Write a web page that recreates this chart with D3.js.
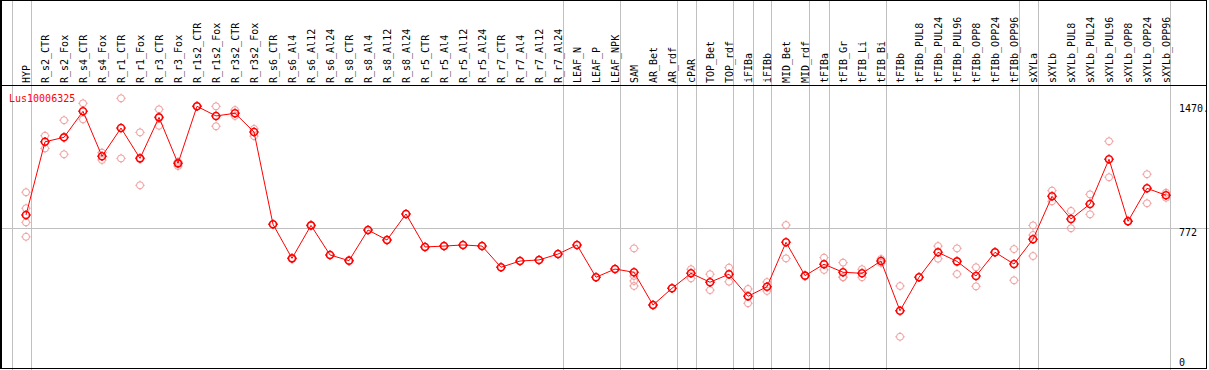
<!DOCTYPE html>
<html>
<head>
<meta charset="utf-8">
<script src="https://cdn.jsdelivr.net/npm/d3@7"></script>
<style>
body { margin: 0; background: #fff; }
text { font-family: "DejaVu Sans Mono", monospace; font-size: 10px; }
</style>
</head>
<body>
<script>
var geneName = "Lus10006325";

var samples = ["HYP", "R_s2_CTR", "R_s2_Fox", "R_s4_CTR", "R_s4_Fox", "R_r1_CTR", "R_r1_Fox",
    "R_r3_CTR", "R_r3_Fox", "R_r1s2_CTR", "R_r1s2_Fox", "R_r3s2_CTR", "R_r3s2_Fox",
    "R_s6_CTR", "R_s6_Al4", "R_s6_Al12", "R_s6_Al24", "R_s8_CTR", "R_s8_Al4", "R_s8_Al12", "R_s8_Al24",
    "R_r5_CTR", "R_r5_Al4", "R_r5_Al12", "R_r5_Al24", "R_r7_CTR", "R_r7_Al4", "R_r7_Al12", "R_r7_Al24",
    "LEAF_N", "LEAF_P", "LEAF_NPK", "SAM", "AR_Bet", "AR_rdf", "cPAR", "TOP_Bet", "TOP_rdf",
    "iFIBa", "iFIBb", "MID_Bet", "MID_rdf", "tFIBa", "tFIB_Gr", "tFIB_Li", "tFIB_Bi", "tFIBb",
    "tFIBb_PUL8", "tFIBb_PUL24", "tFIBb_PUL96", "tFIBb_OPP8", "tFIBb_OPP24", "tFIBb_OPP96",
    "sXYLa", "sXYLb", "sXYLb_PUL8", "sXYLb_PUL24", "sXYLb_PUL96", "sXYLb_OPP8", "sXYLb_OPP24", "sXYLb_OPP96"];

// mean expression per sample
var means = [847, 1258, 1283, 1429, 1177, 1335, 1165, 1395, 1137, 1457, 1403, 1418, 1313,
    795, 604, 789, 623, 591, 763, 707, 853, 668, 673, 679, 673, 554, 589, 595, 628,
    679, 498, 544, 526, 342, 436, 520, 470, 515, 391, 445, 694, 507, 571, 526, 520, 589, 310,
    498, 638, 587, 505, 638, 572, 711, 952, 825, 909, 1160, 812, 997, 958];

// replicate values per sample
var replicates = [
    [975, 885, 806, 725], [1292, 1221], [1379, 1188], [1474, 1384], [1197, 1156], [1502, 1165],
    [1311, 1014], [1440, 1348], [1146, 1122], [1457, 1457], [1457, 1345], [1436, 1403], [1330, 1290],
    [795], [604], [789], [623], [591], [763], [707], [853], [668], [673], [679], [673], [554], [589], [595], [628],
    [679], [498], [544], [660, 505, 477, 449], [342, 342], [436], [543, 492], [515, 426], [552, 473],
    [432, 352], [471, 421], [791, 604], [507], [608, 539], [580, 498, 499], [543, 498], [600, 578], [449, 164],
    [498], [673, 602], [660, 516], [554, 447], [638, 638], [656, 481], [789, 735, 617], [984, 924],
    [870, 773], [963, 851], [1261, 1059], [812, 812], [1076, 913], [972, 944]
];

// first sample index of each group (last entry closes the final group)
var groupStarts = [0, 1, 29, 32, 35, 36, 38, 39, 40, 42, 43, 46, 53, 54, 61];

var yTickValues = [0, 772, 1470];
var yTickLabels = ["0", "772", "1470."];
var gridValues = [772];

var width = 1209, height = 370;
var headerBottom = 85;

var x = d3.scaleLinear().domain([0, samples.length - 1]).range([26, 1166]);
var y = d3.scaleLinear().domain([0, 1470]).range([366, 104]);

var svg = d3.select('body').append('svg')
    .attr('width', width)
    .attr('height', height);

// group separators
svg.selectAll('line.vsep')
    .data(groupStarts)
    .enter()
    .append('line')
    .attr('class', 'vsep')
    .attr('x1', function (d) { return Math.round(x(d) - 14.5) + 0.5; })
    .attr('x2', function (d) { return Math.round(x(d) - 14.5) + 0.5; })
    .attr('y1', 0)
    .attr('y2', height)
    .attr('stroke', '#c0c0c0')
    .attr('stroke-width', 1);

// horizontal grid
svg.selectAll('line.hgrid')
    .data(gridValues)
    .enter()
    .append('line')
    .attr('class', 'hgrid')
    .attr('x1', 0)
    .attr('x2', width)
    .attr('y1', function (d) { return Math.round(y(d)) + 0.5; })
    .attr('y2', function (d) { return Math.round(y(d)) + 0.5; })
    .attr('stroke', '#c0c0c0');

// header line + frame
svg.append('line')
    .attr('x1', 0).attr('x2', 1207)
    .attr('y1', headerBottom + 0.5).attr('y2', headerBottom + 0.5)
    .attr('stroke', '#000');
svg.append('rect')
    .attr('x', 0.5).attr('y', 0.5)
    .attr('width', 1206).attr('height', 368)
    .attr('fill', 'none')
    .attr('stroke', '#000');
svg.append('line')
    .attr('x1', 1.5).attr('x2', 1.5)
    .attr('y1', 0).attr('y2', 369)
    .attr('stroke', '#000');

// sample labels, rotated (reading bottom to top)
svg.selectAll('text.sample')
    .data(samples)
    .enter()
    .append('text')
    .attr('class', 'sample')
    .attr('transform', function (d, i) {
        return 'translate(' + (x(i) + 3.5) + ',' + 83 + ') rotate(-90)';
    })
    .attr('text-anchor', 'start')
    .attr('fill', '#000')
    .text(function (d) { return d; });

// y labels on the right
svg.selectAll('text.ytick')
    .data(yTickValues)
    .enter()
    .append('text')
    .attr('class', 'ytick')
    .attr('x', 1179)
    .attr('y', function (d) { return d === 0 ? y(d) : y(d) + 7.5; })
    .attr('fill', '#000')
    .text(function (d, i) { return yTickLabels[i]; });

svg.append('text')
    .attr('x', 9)
    .attr('y', 101.5)
    .attr('fill', '#ff0000')
    .text(geneName);

// marker: circle with four small ticks
function markerPath(r, t) {
    return 'M' + (-r) + ',0a' + r + ',' + r + ' 0 1,0 ' + (2 * r) + ',0a' + r + ',' + r + ' 0 1,0 ' + (-2 * r) + ',0' +
        'M0,' + (-r) + 'v' + (-t) + 'M0,' + r + 'v' + t +
        'M' + (-r) + ',0h' + (-t) + 'M' + r + ',0h' + t;
}

// replicates
var repPoints = [];
replicates.forEach(function (list, i) {
    list.forEach(function (v) { repPoints.push({ i: i, v: v }); });
});

svg.selectAll('path.rep')
    .data(repPoints)
    .enter()
    .append('path')
    .attr('class', 'rep')
    .attr('transform', function (d) { return 'translate(' + x(d.i) + ',' + y(d.v) + ')'; })
    .attr('d', markerPath(3.5, 1.2))
    .attr('fill', 'none')
    .attr('stroke', '#f09a9a')
    .attr('stroke-width', 1);

// mean line
var line = d3.line()
    .x(function (d, i) { return x(i); })
    .y(function (d) { return y(d); });

svg.append('path')
    .datum(means)
    .attr('d', line)
    .attr('fill', 'none')
    .attr('stroke', '#ff0000')
    .attr('stroke-width', 1);

svg.selectAll('path.mean')
    .data(means)
    .enter()
    .append('path')
    .attr('class', 'mean')
    .attr('transform', function (d, i) { return 'translate(' + x(i) + ',' + y(d) + ')'; })
    .attr('d', markerPath(3.5, 1.3))
    .attr('fill', 'none')
    .attr('stroke', '#ff0000')
    .attr('stroke-width', 1.6);
</script>
</body>
</html>
